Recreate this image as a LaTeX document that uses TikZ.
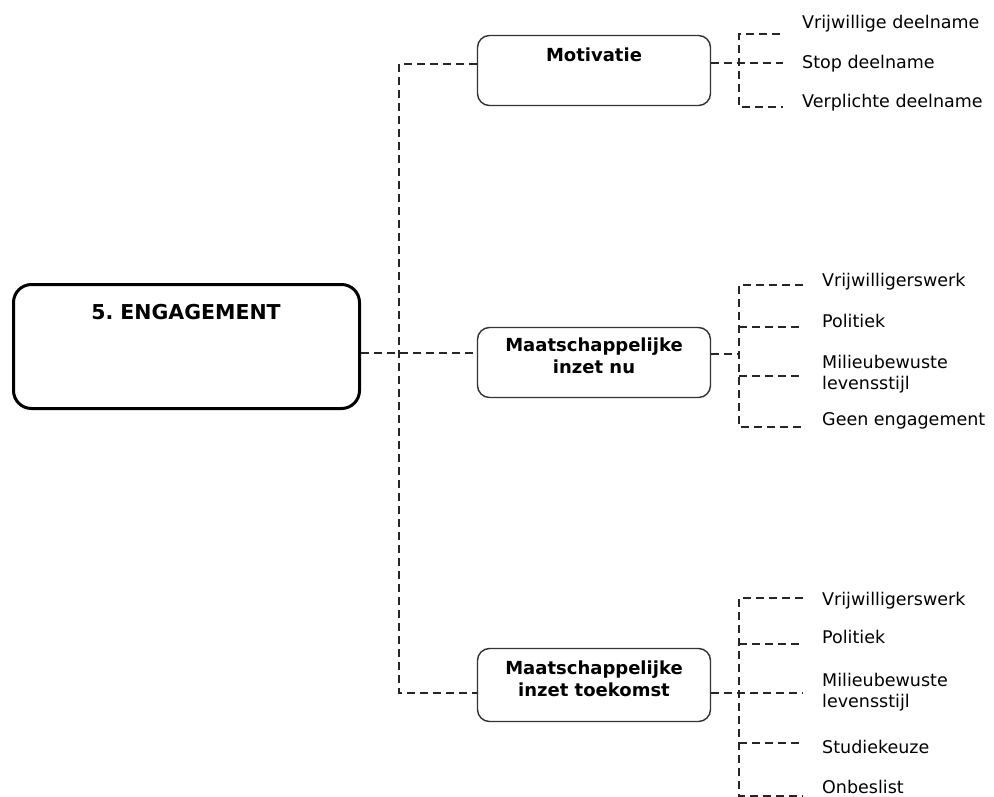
\documentclass[tikz,border=0pt]{standalone}
\usepackage{fontspec}
\setmainfont{DejaVu Sans}
\usetikzlibrary{calc}
\frenchspacing
\tikzset{
  dl/.style={draw=black!85, line width=1.5pt, dash pattern=on 8pt off 5pt},
  rootbox/.style={draw=black, line width=3pt, rounded corners=18pt, minimum width=346pt, minimum height=124pt, inner sep=0pt},
  subbox/.style={draw=black!80, line width=1.4pt, rounded corners=12pt, minimum width=233pt, inner sep=0pt},
  boxtext/.style={font=\fontsize{18}{22}\selectfont\bfseries, align=center, inner sep=0pt},
  leaf/.style={font=\fontsize{17.5}{21}\selectfont, align=left, inner sep=0pt}
}
\begin{document}
\begin{tikzpicture}[x=1pt,y=-1pt]
\useasboundingbox (0,0) rectangle (994,797);
% boxes
\node[rootbox] (root) at (186.5,346.5) {};
\node[font=\fontsize{20.5}{24}\selectfont\bfseries, inner sep=0pt, anchor=base] (roott) at (186,319.5) {5.\ ENGAGEMENT};
\node[subbox, minimum height=70pt] (mot) at (594,70.5) {};
\node[boxtext, anchor=base] (mott) at (594,61.6) {Motivatie};
\node[subbox, minimum height=70pt] (nu) at (594,362.5) {};
\node[boxtext] (nut) at (594,355.7) {Maatschappelijke\\inzet nu};
\node[subbox, minimum height=73pt] (toe) at (594,685) {};
\node[boxtext] (toet) at (594,678.8) {Maatschappelijke\\inzet toekomst};
% leaves: motivatie
\node[leaf, anchor=base west] (m1) at (802,28.5) {Vrijwillige deelname};
\node[leaf, anchor=base west] (m2) at (802,68.5) {Stop deelname};
\node[leaf, anchor=base west] (m3) at (802,107.5) {Verplichte deelname};
% leaves: nu
\node[leaf, anchor=base west] (n1) at (822,286.5) {Vrijwilligerswerk};
\node[leaf, anchor=base west] (n2) at (822,327.5) {Politiek};
\node[leaf, anchor=west] (n3) at (822,374) {Milieubewuste\\levensstijl};
\node[leaf, anchor=base west] (n4) at (822,425.5) {Geen engagement};
% leaves: toekomst
\node[leaf, anchor=base west] (t1) at (822,605.5) {Vrijwilligerswerk};
\node[leaf, anchor=base west] (t2) at (822,643.5) {Politiek};
\node[leaf, anchor=west] (t3) at (822,692.3) {Milieubewuste\\levensstijl};
\node[leaf, anchor=base west] (t4) at (822,753.5) {Studiekeuze};
\node[leaf, anchor=base west] (t5) at (822,793.5) {Onbeslist};
% main spine
\coordinate (sTop) at (399,64);
\coordinate (sMid) at (399,353);
\coordinate (sBot) at (399,693);
\draw[dl] (mot.west |- sTop) -- (sTop) -- (sBot) -- (toe.west |- sBot);
\draw[dl] (root.east |- sMid) -- (nu.west |- sMid);
% motivatie branch
\coordinate (a1) at (739,34);
\coordinate (a2) at (739,63);
\coordinate (a3) at (739,107);
\draw[dl] ($(m1.west |- a1)+(-22,0)$) -- (a1) -- (a3) -- ($(m3.west |- a3)+(-19,0)$);
\draw[dl] (mot.east |- a2) -- ($(m2.west |- a2)+(-19,0)$);
% nu branch
\coordinate (b1) at (739,285);
\coordinate (b2) at (739,327);
\coordinate (bm) at (739,354);
\coordinate (b3) at (739,376);
\coordinate (b4) at (739,427);
\draw[dl] ($(n1.west |- b1)+(-19,0)$) -- (b1) -- (b4) -- ($(n4.west |- b4)+(-19,0)$);
\draw[dl] (b2) -- ($(n2.west |- b2)+(-19,0)$);
\draw[dl] (b3) -- ($(n3.west |- b3)+(-19,0)$);
\draw[dl] (nu.east |- bm) -- (bm);
% toekomst branch
\coordinate (c1) at (739,598);
\coordinate (c2) at (739,644);
\coordinate (c3) at (739,693);
\coordinate (c4) at (739,743);
\coordinate (c5) at (739,796);
\draw[dl] ($(t1.west |- c1)+(-19,0)$) -- (c1) -- (c5) -- ($(t5.west |- c5)+(-19,0)$);
\draw[dl] (c2) -- ($(t2.west |- c2)+(-19,0)$);
\draw[dl] (toe.east |- c3) -- ($(t3.west |- c3)+(-19,0)$);
\draw[dl] (c4) -- ($(t4.west |- c4)+(-19,0)$);
\end{tikzpicture}
\end{document}
